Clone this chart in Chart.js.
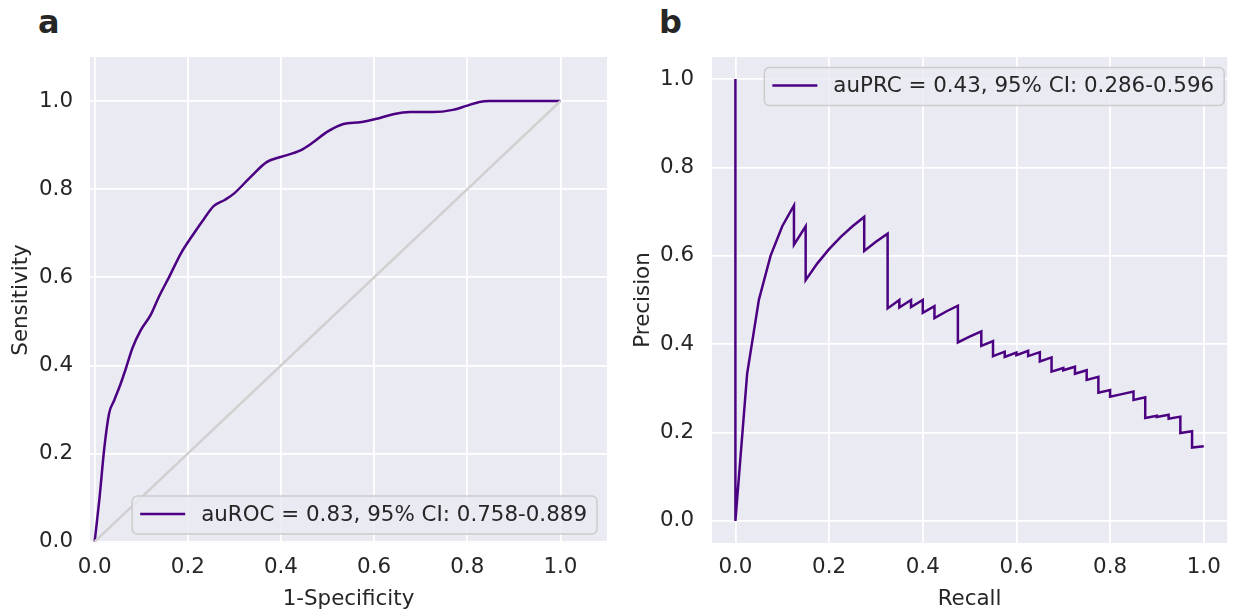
<!DOCTYPE html>
<html>
<head>
<meta charset="utf-8">
<script src="https://cdn.jsdelivr.net/npm/chart.js@4.4.1/dist/chart.umd.min.js"></script>
<style>
    html, body { margin: 0; padding: 0; background: #ffffff; }
    body { width: 1233px; height: 615px; position: relative; overflow: hidden; }
    .panel { position: absolute; top: 0; }
    .letter {
        position: absolute;
        font: bold 32px "DejaVu Sans", sans-serif;
        line-height: 32px;
        color: #262626;
    }
</style>
</head>
<body>
<div class="letter" style="left:38px; top:6px;">a</div>
<div class="letter" style="left:659px; top:6px;">b</div>
<canvas id="rocChart" class="panel" style="left:0px;" width="616" height="615"></canvas>
<canvas id="prChart" class="panel" style="left:616px;" width="617" height="615"></canvas>
<script>
// ROC curve (1-specificity vs sensitivity)
const rocFpr = [0, 0.01, 0.021, 0.031, 0.042, 0.056, 0.067, 0.081, 0.099, 0.12,
    0.138, 0.16, 0.185, 0.21, 0.235, 0.256, 0.28, 0.299, 0.335, 0.37,
    0.399, 0.442, 0.47, 0.499, 0.534, 0.57, 0.606, 0.641, 0.677, 0.726,
    0.769, 0.798, 0.826, 0.848, 1.0];
const rocTpr = [0, 0.095, 0.215, 0.291, 0.321, 0.359, 0.393, 0.439, 0.48, 0.514,
    0.556, 0.601, 0.654, 0.695, 0.733, 0.762, 0.776, 0.79, 0.828, 0.862,
    0.873, 0.888, 0.907, 0.93, 0.948, 0.952, 0.96, 0.97, 0.975, 0.975,
    0.98, 0.989, 0.998, 1.0, 1.0];

// chance diagonal
const chanceX = [0, 1];
const chanceY = [0, 1];

// precision-recall curve
const prRecall = [0, 0, 0.025, 0.05, 0.075, 0.1, 0.125, 0.125, 0.15, 0.15,
    0.175, 0.2, 0.225, 0.25, 0.275, 0.275, 0.3, 0.325, 0.325, 0.35,
    0.35, 0.375, 0.375, 0.4, 0.4, 0.425, 0.425, 0.45, 0.475, 0.475,
    0.5, 0.525, 0.525, 0.55, 0.55, 0.575, 0.575, 0.6, 0.6, 0.625,
    0.625, 0.65, 0.65, 0.675, 0.675, 0.7, 0.7, 0.725, 0.725, 0.75,
    0.75, 0.775, 0.775, 0.8, 0.8, 0.825, 0.85, 0.85, 0.875, 0.875,
    0.9, 0.9, 0.925, 0.925, 0.95, 0.95, 0.975, 0.975, 1.0];
const prPrecision = [1.0, 0.0, 0.333, 0.5, 0.6, 0.667, 0.714, 0.625, 0.667, 0.545,
    0.583, 0.615, 0.643, 0.667, 0.688, 0.611, 0.632, 0.65, 0.481, 0.5,
    0.483, 0.5, 0.484, 0.5, 0.471, 0.486, 0.459, 0.474, 0.487, 0.404,
    0.417, 0.429, 0.396, 0.407, 0.373, 0.383, 0.371, 0.381, 0.375, 0.385,
    0.373, 0.382, 0.361, 0.37, 0.338, 0.346, 0.341, 0.349, 0.333, 0.341,
    0.319, 0.326, 0.29, 0.296, 0.281, 0.287, 0.293, 0.274, 0.28, 0.233,
    0.238, 0.235, 0.24, 0.231, 0.236, 0.199, 0.203, 0.166, 0.169];

const tickValues = [0, 0.2, 0.4, 0.6, 0.8, 1.0];
const rocLabel = 'auROC = 0.83, 95% CI: 0.758-0.889';
const prLabel = 'auPRC = 0.43, 95% CI: 0.286-0.596';

const FONT = '"DejaVu Sans", sans-serif';
const TEXT = '#262626';
const CURVE = '#4b0082';

const toPoints = (xs, ys) => xs.map((x, i) => ({ x, y: ys[i] }));

// fill the plot area like seaborn's darkgrid
const plotBackground = {
    id: 'plotBackground',
    beforeDraw(chart) {
        const { ctx, chartArea: a } = chart;
        ctx.save();
        ctx.fillStyle = '#eaeaf2';
        ctx.fillRect(a.left, a.top, a.right - a.left, a.bottom - a.top);
        ctx.restore();
    }
};

// legend drawn inside the axes, matplotlib style
const insideLegend = {
    id: 'insideLegend',
    afterDatasetsDraw(chart, args, opts) {
        const { ctx, chartArea: a } = chart;
        const ds = chart.data.datasets[opts.index];
        ctx.save();
        ctx.font = '21.4px ' + FONT;
        const textW = ctx.measureText(ds.label).width;
        const w = 69 + textW + 10;
        const h = 38;
        const x = a.right - opts.marginX - w;
        const y = opts.top ? a.top + opts.marginY : a.bottom - opts.marginY - h;

        ctx.beginPath();
        ctx.roundRect(x, y, w, h, 5);
        ctx.fillStyle = 'rgba(234, 234, 242, 0.8)';
        ctx.fill();
        ctx.strokeStyle = '#cccccc';
        ctx.lineWidth = 1.5;
        ctx.stroke();

        ctx.beginPath();
        ctx.moveTo(x + 8, y + h / 2 - 1);
        ctx.lineTo(x + 53, y + h / 2 - 1);
        ctx.strokeStyle = ds.borderColor;
        ctx.lineWidth = 2.5;
        ctx.stroke();

        ctx.fillStyle = TEXT;
        ctx.textBaseline = 'middle';
        ctx.textAlign = 'left';
        ctx.fillText(ds.label, x + 69, y + h / 2);
        ctx.restore();
    }
};

function axis(min, max, title, size, tickPad, titlePad) {
    return {
        type: 'linear',
        min: min,
        max: max,
        afterBuildTicks: (scale) => {
            scale.ticks = tickValues.map(v => ({ value: v }));
        },
        afterFit: (scale) => {
            if (scale.isHorizontal()) scale.height = size;
            else scale.width = size;
        },
        grid: { color: '#ffffff', lineWidth: 1.75, drawTicks: false },
        border: { display: false },
        ticks: {
            padding: tickPad,
            color: TEXT,
            font: { family: FONT, size: 21.4 },
            maxRotation: 0,
            autoSkip: false,
            callback: (v) => Number(v).toFixed(1)
        },
        title: {
            display: true,
            text: title,
            color: TEXT,
            font: { family: FONT, size: 21.4 },
            padding: titlePad
        }
    };
}

function makeChart(id, datasets, scales, padding, legendOpts) {
    const ctx = document.getElementById(id).getContext('2d');
    return new Chart(ctx, {
        type: 'scatter',
        data: { datasets },
        options: {
            responsive: false,
            animation: false,
            layout: { padding },
            scales,
            plugins: {
                legend: { display: false },
                tooltip: { enabled: false },
                insideLegend: legendOpts
            }
        },
        plugins: [plotBackground, insideLegend]
    });
}

makeChart('rocChart', [
    {
        label: 'chance',
        data: toPoints(chanceX, chanceY),
        showLine: true,
        borderColor: '#d0d0d0',
        borderWidth: 2.5,
        pointRadius: 0
    },
    {
        label: rocLabel,
        data: toPoints(rocFpr, rocTpr),
        showLine: true,
        borderColor: CURVE,
        borderWidth: 2.5,
        pointRadius: 0,
        cubicInterpolationMode: 'monotone'
    }
], {
    x: axis(-0.01, 1.1, '1-Specificity', 72, 12, { top: 0, bottom: 3 }),
    y: axis(-0.003, 1.1, 'Sensitivity', 90, 17, { top: 9, bottom: 0 })
}, { top: 57, right: 9, left: 0, bottom: 0 }, { index: 1, top: false, marginX: 10, marginY: 9 });

makeChart('prChart', [
    {
        label: prLabel,
        data: toPoints(prRecall, prPrecision),
        showLine: true,
        borderColor: CURVE,
        borderWidth: 2.5,
        pointRadius: 0
    }
], {
    x: axis(-0.05, 1.05, 'Recall', 72, 12, { top: 0, bottom: 3 }),
    y: axis(-0.05, 1.05, 'Precision', 96, 18, { top: 15, bottom: 0 })
}, { top: 57, right: 5, left: 0, bottom: 0 }, { index: 0, top: true, marginX: 3, marginY: 10.5 });
</script>
</body>
</html>
